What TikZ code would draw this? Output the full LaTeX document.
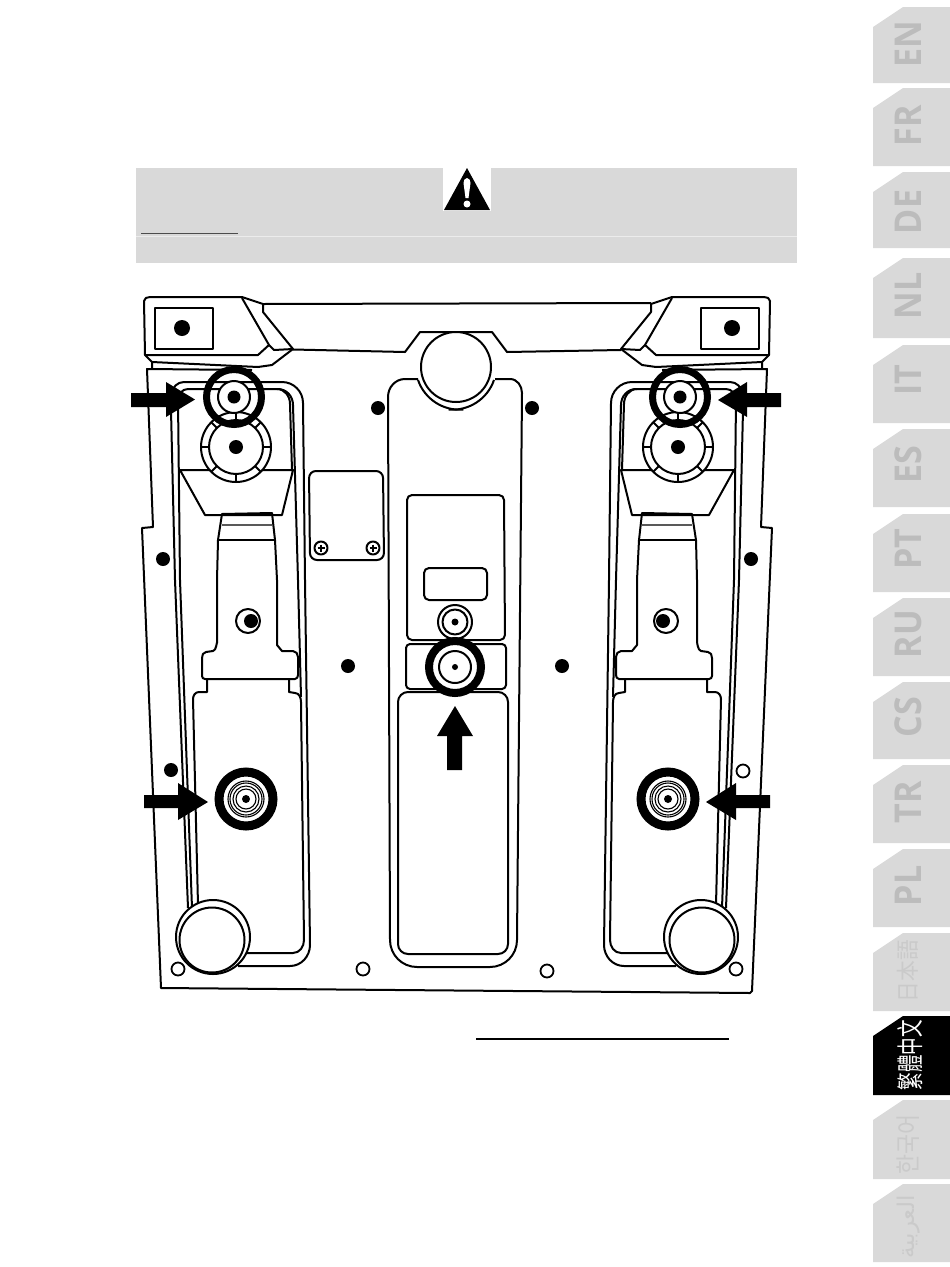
\documentclass[tikz,border=0pt]{standalone}
\usepackage{fontspec}
\usepackage{graphicx}
\usetikzlibrary{calc}
\setmainfont{Open Sans}
\newfontfamily\cjkjp{Noto Sans CJK JP}
\newfontfamily\cjktc{Noto Sans CJK TC}
\newfontfamily\cjkkr{Noto Sans CJK KR}
\newfontfamily\arabicfont[Script=Arabic]{DejaVu Sans}
\TeXXeTstate=1
\definecolor{tabgrey}{HTML}{D9D9D9}
\definecolor{tabtext}{HTML}{BCBCBC}
\definecolor{tabfaint}{HTML}{CACACA}
\tikzset{
  ln/.style={draw=black,line width=2pt,line join=round},
  solid dot/.style={fill=black,draw=none},
  open dot/.style={draw=black,line width=1.8pt,fill=white},
  pointer/.style={fill=black,draw=none},
  tabtxt/.style={rotate=90,inner sep=0pt,font=\bfseries\fontsize{37}{37}\selectfont,text=tabtext},
  tabcjk/.style={rotate=90,inner sep=0pt,text=tabfaint},
}
% one half of the plate, mirrored for the other side
\newcommand{\halfplate}{%
  % top corner block
  \draw[ln] (263,304) -- (242,297) -- (150,297) to[out=180,in=90] (144,301) -- (145,355) -- (152,362) -- (152,369);
  \draw[ln] (145,355) -- (258,355) -- (269,345) -- (242,298);
  \draw[ln] (263,304) -- (263,312) -- (293,349) -- (272,365) -- (258,367) -- (152,362);
  \draw[ln] (269,345) -- (274,350) -- (293,349);
  \draw[ln] (155,308) rectangle (213,349);
  \fill[solid dot] (182,328) circle[radius=8];
  % channels
  \draw[ln] (188,908) -- (175,580) -- (171,410) -- (172,394) to[out=90,in=180] (184,382) -- (282,382) to[out=0,in=90] (303,403) -- (305,580) -- (310,945) to[out=270,in=0] (290,966) -- (238,966);
  \draw[ln] (192,908) -- (180,580) -- (178,400) to[out=90,in=180] (188,389) -- (278,389) to[out=0,in=90] (293,405) -- (298,580) -- (301,697);
  \draw[ln] (277,389) to[out=0,in=90] (290,404) -- (292,470);
  % trapezoid
  \draw[ln] (180,470) -- (293,470) -- (282,515) -- (205,515) -- cycle;
  % stem
  \draw[ln] (222,514) -- (272,513) -- (275,540) -- (277,580) -- (277,645) -- (282,651) -- (293,651) to[out=0,in=90] (298,657) -- (298,675) to[out=270,in=0] (295,679) -- (205,679) to[out=180,in=270] (202,676) -- (202,658) to[out=90,in=180] (206,652) -- (213,651) to[out=0,in=90] (217,643) -- (217,580) -- (218,540) -- cycle;
  \draw[draw=black!65,line width=1.2pt] (222,525) -- (272,525);
  \draw[ln] (218,540) -- (275,540);
  % lower panel
  \draw[ln] (207,679) -- (207,692) -- (199,692) to[out=180,in=90] (193,699) -- (198,905);
  \draw[ln] (289,679) -- (289,692) -- (295,693) to[out=0,in=90] (301,702) -- (304,940) to[out=270,in=0] (293,953) -- (238,953);
  % foot
  \draw[ln,fill=white] (213,937) circle[radius=37];
  \draw[ln] (212,940) circle[radius=32.5];
  % knob with eight ticks
  \draw[ln,fill=white] (236,447) circle[radius=35];
  \draw[ln] (236,447) circle[radius=27];
  \foreach \a in {0,45,...,315}{\draw[ln] ($(236,447)+(\a:27)$) -- ($(236,447)+(\a:35)$);}
  % ring over the knob
  \draw[ln,fill=white] (234,397) circle[radius=16];
  \draw[draw=black,line width=7pt] (234,397) circle[radius=27.5];
  \fill[solid dot] (234,397) circle[radius=6.5];
  \fill[solid dot] (236,447) circle[radius=7];
  % screw
  \draw[ln] (248,621) circle[radius=12];
  \fill[solid dot] (251,621) circle[radius=7];
  % lower ring
  \draw[draw=black,line width=9pt,fill=white] (246,799) circle[radius=27];
  \foreach \r in {18,16,13,10}{\draw[line width=1.1pt] (246,799) circle[radius=\r];}
  \fill[solid dot] (246,799) circle[radius=4];
  % side dots
  \fill[solid dot] (163,559) circle[radius=7];
  \draw[open dot] (178,969) circle[radius=6.5];
  % lower arrow
  \fill[pointer] (144,795) -- (178,795) -- (178,783) -- (208,802) -- (178,820) -- (178,808) -- (144,808) -- cycle;
}
% top, bottom, colour
\newcommand{\langtab}[3]{%
  \fill[#3] (950,#1) -- (903,#1) -- (873,#1+20) -- (873,#2) -- (950,#2) -- cycle;
}
\begin{document}
\begin{tikzpicture}[x=1pt,y=-1pt]
\useasboundingbox (0,0) rectangle (950,1267);
% warning band
\fill[tabgrey] (136,168) rectangle (797,263);
\fill[white] (443,168) rectangle (491,211);
\fill[black] (467,168) -- (490,210) -- (444,210) -- cycle;
\fill[white] (463.5,183) to[out=90,in=180] (467,178) to[out=0,in=90] (470.5,183) -- (468.5,198) -- (465.5,198) -- cycle;
\fill[white] (467,204) circle[radius=3.5];
\draw[draw=black!70,line width=1pt] (141,233) -- (238,233);
\draw[draw=tabgrey!50!white,line width=0.8pt] (136,236) -- (797,236);
\draw[draw=black,line width=1.4pt] (476,1039) -- (729,1039);
% plate
\begin{scope}
  \draw[ln] (263,304) -- (651,303);
  \draw[ln] (293,349.5) -- (405,352) -- (420,332) -- (492,332) -- (507,352) -- (621,350);
  % plate edge
  \draw[ln] (252,370) -- (147,369) -- (153,527) -- (142,528) -- (161,988) -- (750,993) -- (752,991) -- (772,528) -- (761,527) -- (767,369) -- (662,370);
  % centre panel
  \draw[ln] (418,379) -- (405,379) to[out=180,in=90] (388,397) -- (390,940) to[out=270,in=180] (417,967) -- (490,967) to[out=0,in=270] (517,940) -- (522,393) to[out=90,in=0] (510,379) -- (495,379);
  \draw[ln] (418,380) arc[start angle=161,end angle=85,radius=44];
  \draw[ln] (494,380) arc[start angle=19,end angle=95,radius=44];
  \draw[ln,fill=white] (456,367) circle[radius=35];
  \draw[ln,rounded corners=5pt] (407,640) -- (407,495) -- (504,495) -- (505,640) -- cycle;
  \draw[ln,rounded corners=5pt] (424,568) rectangle (487,600);
  \draw[ln] (455,622) circle[radius=17];
  \draw[ln] (455,622) circle[radius=12.5];
  \fill[solid dot] (455,622) circle[radius=3.5];
  \draw[ln,rounded corners=4pt] (406,644) rectangle (506,689);
  \draw[ln,rounded corners=10pt,fill=white] (398,692) rectangle (508,954);
  \draw[draw=black,line width=8pt,fill=white] (455,667) circle[radius=26];
  \draw[ln] (455,667) circle[radius=16];
  \fill[solid dot] (455,667) circle[radius=3];
  \fill[pointer] (455,706) -- (473,736) -- (462,736) -- (462,770) -- (447,770) -- (447,736) -- (437,736) -- cycle;
  \halfplate
  \begin{scope}[shift={(914,0)},xscale=-1]
    \halfplate
  \end{scope}
  % access plate with two screws
  \draw[ln,rounded corners=7pt] (309,471) -- (383,471) -- (384,560) -- (310,560) -- cycle;
  \foreach \c in {(321,548),(373,548)}{
    \draw[ln] \c circle[radius=6.5];
    \draw[line width=1.4pt] \c +(-3.5,0) -- +(3.5,0) \c +(0,-3.5) -- +(0,3.5);
  }
  % upper arrows
  \fill[pointer] (131,393) -- (166,393) -- (166,382) -- (195,399.5) -- (166,417) -- (166,407) -- (131,407) -- cycle;
  \fill[pointer] (781,393) -- (747,393) -- (747,382) -- (718,400) -- (747,417) -- (747,407) -- (781,407) -- cycle;
  \fill[solid dot] (378,408) circle[radius=7];
  \fill[solid dot] (532,408) circle[radius=7];
  \draw[open dot] (363,969) circle[radius=6.5];
  \draw[open dot] (547,971) circle[radius=6.5];
  \fill[solid dot] (171,770) circle[radius=7];
  \draw[open dot] (743,771) circle[radius=6.5];
  \fill[solid dot] (348,666) circle[radius=7];
  \fill[solid dot] (562,666) circle[radius=7];
\end{scope}
% language tabs
\langtab{7}{83}{tabgrey}
\langtab{88}{166}{tabgrey}
\langtab{172}{248}{tabgrey}
\langtab{258}{338}{tabgrey}
\langtab{345}{423}{tabgrey}
\langtab{429}{507}{tabgrey}
\langtab{514}{592}{tabgrey}
\langtab{598}{676}{tabgrey}
\langtab{682}{759}{tabgrey}
\langtab{765}{843}{tabgrey}
\langtab{849}{927}{tabgrey}
\langtab{933}{1011}{tabgrey}
\langtab{1016}{1095}{black}
\langtab{1100}{1179}{tabgrey}
\langtab{1184}{1262}{tabgrey}
\node[tabtxt] (en) at (908,44) {\scalebox{0.92}[1]{EN}};
\node[tabtxt] (fr) at (908,126) {\scalebox{0.92}[1]{FR}};
\node[tabtxt] (de) at (908,212) {\scalebox{0.92}[1]{DE}};
\node[tabtxt] (nl) at (908,296) {\scalebox{0.92}[1]{NL}};
\node[tabtxt] (it) at (908,380) {\scalebox{0.92}[1]{IT}};
\node[tabtxt] (es) at (908,465) {\scalebox{0.92}[1]{ES}};
\node[tabtxt] (pt) at (908,549) {\scalebox{0.92}[1]{PT}};
\node[tabtxt] (ru) at (908,634) {\scalebox{0.92}[1]{RU}};
\node[tabtxt] (cs) at (908,717) {\scalebox{0.92}[1]{CS}};
\node[tabtxt] (tr) at (908,802) {\scalebox{0.92}[1]{TR}};
\node[tabtxt] (pl) at (908,886) {\scalebox{0.92}[1]{PL}};
\node[tabcjk,font=\cjkjp\fontsize{23}{23}\selectfont] (ja) at (908,971) {\scalebox{0.9}[1]{日本語}};
\node[tabcjk,text=white,font=\cjktc\fontsize{27}{27}\selectfont] (zh) at (910,1055) {\scalebox{0.65}[1]{繁體中文}};
\node[tabcjk,font=\cjkkr\fontsize{25}{25}\selectfont] (ko) at (908,1144) {\scalebox{0.87}[1]{한국어}};
\node[tabcjk,font=\arabicfont\fontsize{23}{23}\selectfont] (ar) at (909,1227) {\beginR العربية\endR};
\end{tikzpicture}
\end{document}
